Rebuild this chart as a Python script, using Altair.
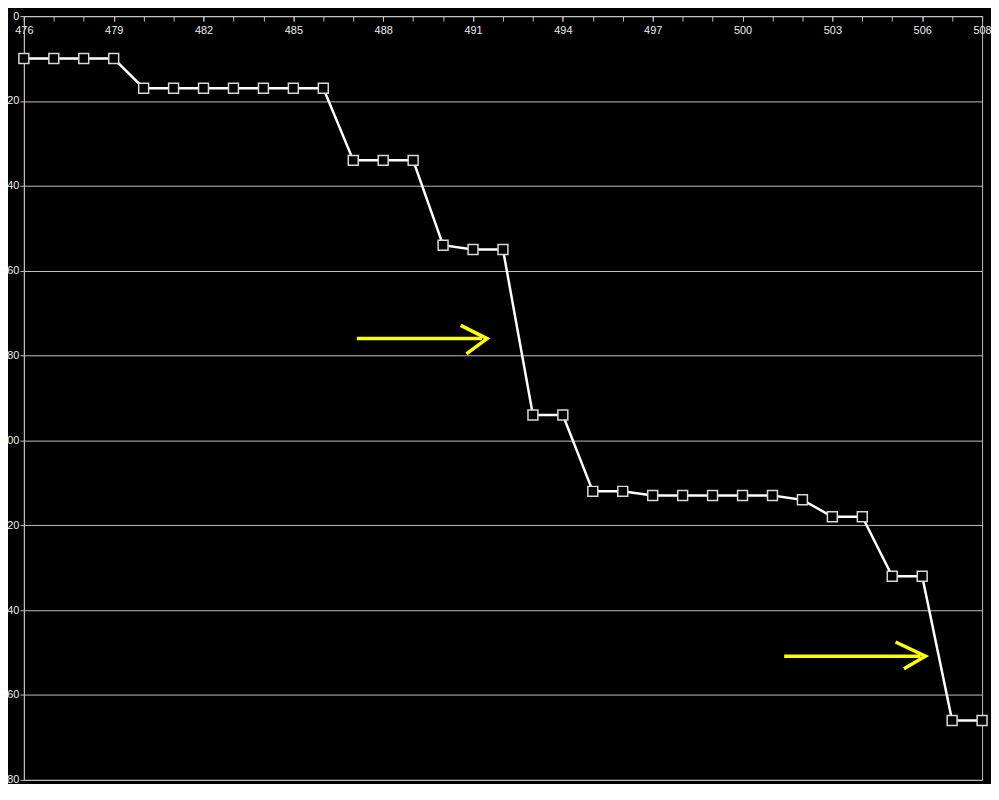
import altair as alt
import pandas as pd

# Main series
x_vals = list(range(476, 509))
y_vals = [10, 10, 10, 10,
          17, 17, 17, 17, 17, 17, 17,
          34, 34, 34,
          54, 55, 55,
          94, 94,
          112, 112,
          113, 113, 113, 113, 113,
          114, 118, 118, 132, 132,
          166, 166]

# Yellow arrow annotations (polylines, in data coordinates)
arrow_seg = ["a1_shaft", "a1_shaft", "a1_head", "a1_head", "a1_head",
             "a2_shaft", "a2_shaft", "a2_head", "a2_head", "a2_head"]
arrow_x = [487.12, 491.3, 490.59, 491.47, 490.78,
           501.39, 505.95, 505.11, 506.11, 505.39]
arrow_y = [76.0, 76.0, 72.9, 76.0, 79.6,
           150.85, 150.85, 147.5, 150.85, 153.8]
arrow_order = [0, 1, 0, 1, 2, 0, 1, 0, 1, 2]

x_tick_values = list(range(476, 509))
x_label_values = [476, 479, 482, 485, 488, 491, 494, 497, 500, 503, 506, 508]
y_ticks = list(range(0, 181, 20))

df = pd.DataFrame({"x": x_vals, "y": y_vals})
arrows = pd.DataFrame({"seg": arrow_seg, "x": arrow_x, "y": arrow_y, "o": arrow_order})

W, H = 966, 770
GRID = "#c0c0c0"
LBL = "#ececec"

xscale = alt.Scale(domain=[476, 508], nice=False, zero=False)
yscale = alt.Scale(domain=[0, 180], reverse=True, nice=False, zero=False)

# x axis with labels (drawn at the top, inside the plot)
xaxis_labels = alt.Axis(
    orient="bottom", offset=-H, values=x_label_values,
    grid=False, tickSize=5, labelPadding=4, domainColor=GRID, tickColor=GRID,
    labelColor=LBL, labelFontSize=11, title=None, labelFlush=False,
    labelOverlap=False,
)
# x axis with a tick at every integer, no labels
xaxis_ticks = alt.Axis(
    orient="bottom", offset=-H, values=x_tick_values, labels=False,
    grid=False, tickSize=5, domainColor=GRID, tickColor=GRID, title=None,
)
yaxis = alt.Axis(
    values=y_ticks, grid=True, gridColor=GRID, gridWidth=1, tickSize=4,
    labelPadding=1, domainColor=GRID, tickColor=GRID, labelColor=LBL,
    labelFontSize=11, title=None, labelFlush=False, labelOverlap=False,
)

line = alt.Chart(df).mark_line(color="white", strokeWidth=2.5).encode(
    x=alt.X("x:Q", scale=xscale, axis=xaxis_labels),
    y=alt.Y("y:Q", scale=yscale, axis=yaxis),
)
arr = alt.Chart(arrows).mark_line(color="#ffff00", strokeWidth=3.5).encode(
    x=alt.X("x:Q", scale=xscale, axis=xaxis_ticks),
    y=alt.Y("y:Q", scale=yscale, axis=None),
    detail="seg:N",
    order="o:Q",
)
pts = alt.Chart(df).mark_point(
    shape="square", filled=False, fill="black", fillOpacity=1,
    stroke="#d8d8d8", strokeWidth=1.5, size=100, opacity=1,
).encode(
    x=alt.X("x:Q", scale=xscale, axis=None),
    y=alt.Y("y:Q", scale=yscale, axis=None),
)

chart = alt.layer(line, arr, pts).resolve_axis(
    x="independent", y="independent"
).properties(
    width=W, height=H,
    autosize=alt.AutoSizeParams(type="none"),
    padding={"left": 16, "top": 5, "right": 9, "bottom": 1},
    background="black",
).configure_view(
    fill="black", stroke=GRID, strokeWidth=1,
).configure_axis(labelFont="Liberation Sans")

chart.save("out.html", embed_options={"renderer": "svg", "actions": False})
